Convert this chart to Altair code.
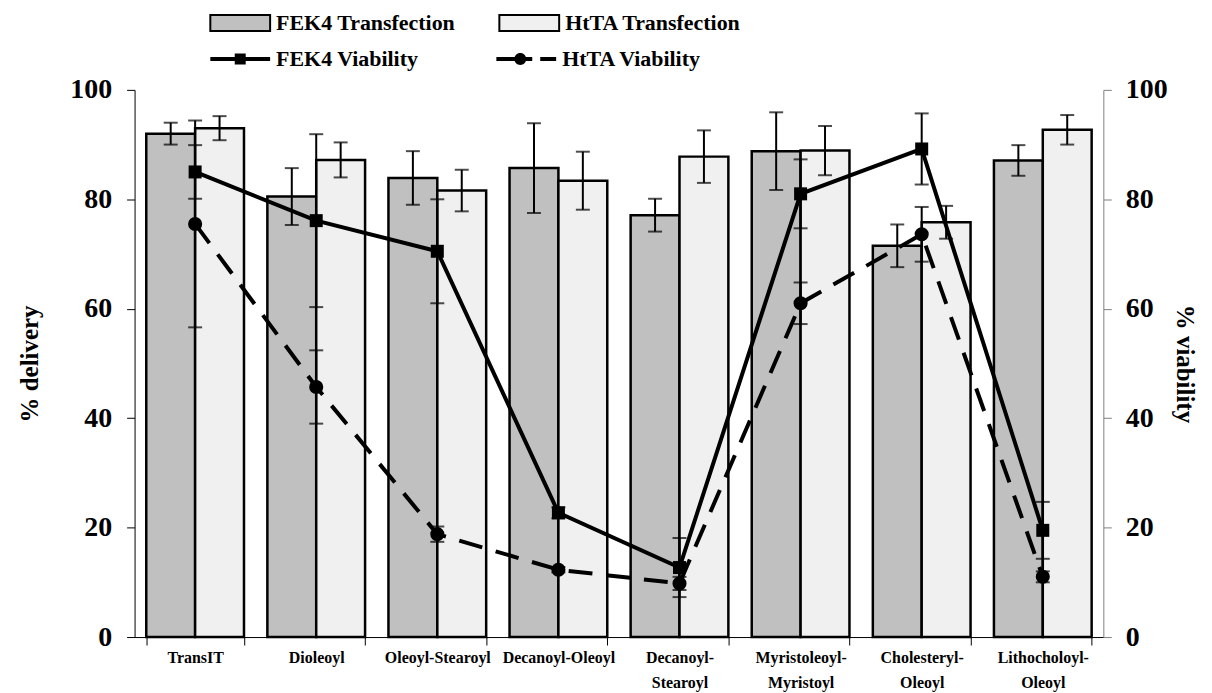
import altair as alt
import pandas as pd

# ---------------- data ----------------
categories = ["TransIT", "Dioleoyl", "Oleoyl-Stearoyl", "Decanoyl-Oleoyl",
              "Decanoyl-\nStearoyl", "Myristoleoyl-\nMyristoyl",
              "Cholesteryl-\nOleoyl", "Lithocholoyl-\nOleoyl"]

fek4_transfection = [92.0, 80.5, 83.9, 85.7, 77.1, 88.8, 71.5, 87.1]
fek4_transfection_err = [2.0, 5.2, 4.9, 8.2, 3.0, 7.1, 3.9, 2.8]
htta_transfection = [93.0, 87.2, 81.6, 83.4, 87.8, 88.9, 75.8, 92.7]
htta_transfection_err = [2.2, 3.2, 3.8, 5.3, 4.8, 4.5, 3.0, 2.7]

fek4_viability = [85.0, 76.1, 70.5, 22.7, 12.7, 81.0, 89.2, 19.5]
fek4_viability_err = [4.9, 15.8, 9.5, 1.0, 5.4, 6.3, 6.5, 5.2]
htta_viability = [75.5, 45.7, 18.8, 12.3, 9.8, 61.0, 73.6, 11.0]
htta_viability_err = [18.9, 6.7, 1.4, 0.5, 1.2, 3.8, 5.0, 1.0]

bar_series = ["FEK4 Transfection", "HtTA Transfection"]
via_series = ["FEK4 Viability", "HtTA Viability"]


def long_df(key, series_names, values, errs):
    rows = []
    for name, vals, es in zip(series_names, values, errs):
        for c, v, e in zip(categories, vals, es):
            rows.append({"category": c, key: name, "value": v,
                         "lo": v - e, "hi": v + e})
    return pd.DataFrame(rows)


bar_df = long_df("transfection", bar_series,
                 [fek4_transfection, htta_transfection],
                 [fek4_transfection_err, htta_transfection_err])
via_df = long_df("viability", via_series,
                 [fek4_viability, htta_viability],
                 [fek4_viability_err, htta_viability_err])

# ---------------- style ----------------
FONT = "Liberation Serif"

x_axis = alt.Axis(title=None, labelAngle=0, tickBand="extent", tickSize=8,
                  domainColor="black", tickColor="black", domainWidth=1,
                  labelFont=FONT, labelFontSize=16, labelFontWeight="bold",
                  labelColor="black", labelLineHeight=25, labelPadding=5,
                  labelExpr="split(datum.label, '\\n')", labelLimit=300)
x_enc = alt.X("category:N", sort=categories,
              scale=alt.Scale(paddingInner=0.193, paddingOuter=0.0965),
              axis=x_axis)

left_axis = alt.Axis(orient="left", values=[0, 20, 40, 60, 80, 100],
                     title="% delivery", grid=False, domainColor="black",
                     tickColor="black", tickSize=8, labelFont=FONT,
                     labelFontSize=28, labelFontWeight="bold", labelColor="black",
                     labelPadding=15, titleFont=FONT, titleFontSize=25,
                     titleFontWeight="bold", titleColor="black", titlePadding=27)
right_axis = alt.Axis(orient="right", values=[0, 20, 40, 60, 80, 100],
                      title="% viability", grid=False, domainColor="#808080",
                      tickColor="#808080", tickSize=8, labelFont=FONT,
                      labelFontSize=28, labelFontWeight="bold", labelColor="black",
                      labelPadding=14, titleFont=FONT, titleFontSize=25,
                      titleFontWeight="bold", titleColor="black", titlePadding=4)
yscale = alt.Scale(domain=[0, 100], nice=False)

xoff = alt.XOffset("transfection:N", sort=bar_series,
                   scale=alt.Scale(paddingInner=0, paddingOuter=0))

# legend symbol outlines (unit box, scaled by the legend symbol size)
rect_path = "M-1,-0.8H5V0.8H-1Z"
fek4_line_path = "M-1,-0.2H5V0.2H-1ZM1.45,-0.55H2.55V0.55H1.45Z"
htta_line_path = ("M-1,-0.2H2.6V0.2H-1ZM3.4,-0.2H5V0.2H3.4Z"
                  "M0.8,0A0.6,0.6 0 1,1 2.0,0A0.6,0.6 0 1,1 0.8,0Z")

legend_common = dict(orient="none", direction="horizontal", columns=2,
                     title=None, symbolSize=400, labelFont=FONT,
                     labelFontSize=22, labelFontWeight="bold",
                     labelColor="black", labelOffset=45, labelLimit=500,
                     padding=0)

# ---------------- left (transfection) ----------------
base_bar = alt.Chart(bar_df)
bars = base_bar.mark_bar(stroke="black", strokeWidth=2.5).encode(
    x=x_enc, xOffset=xoff,
    y=alt.Y("value:Q", scale=yscale, axis=left_axis),
    fill=alt.Fill("transfection:N",
                  scale=alt.Scale(domain=bar_series, range=["#c0c0c0", "#f0f0f0"]),
                  legend=alt.Legend(legendX=75, legendY=-78,
                                    symbolType=rect_path,
                                    symbolStrokeColor="black", symbolStrokeWidth=2,
                                    columnPadding=40, **legend_common)),
)
bar_rule = base_bar.mark_rule(color="black", strokeWidth=2).encode(
    x=x_enc, xOffset=xoff,
    y=alt.Y("lo:Q", scale=yscale, axis=left_axis), y2="hi:Q")
bar_cap_hi = base_bar.mark_tick(color="black", size=14, thickness=2,
                                orient="horizontal").encode(
    x=x_enc, xOffset=xoff, y=alt.Y("hi:Q", scale=yscale, axis=left_axis))
bar_cap_lo = base_bar.mark_tick(color="black", size=14, thickness=2,
                                orient="horizontal").encode(
    x=x_enc, xOffset=xoff, y=alt.Y("lo:Q", scale=yscale, axis=left_axis))

left = alt.layer(bars, bar_rule, bar_cap_hi, bar_cap_lo)

# ---------------- right (viability) ----------------
base_via = alt.Chart(via_df)
fek4_via = base_via.transform_filter(alt.datum.viability == "FEK4 Viability")
htta_via = base_via.transform_filter(alt.datum.viability == "HtTA Viability")

via_rule = base_via.mark_rule(color="black", strokeWidth=2).encode(
    x=x_enc, y=alt.Y("lo:Q", scale=yscale, axis=right_axis), y2="hi:Q")
via_cap_hi = base_via.mark_tick(color="black", size=14, thickness=2,
                                orient="horizontal").encode(
    x=x_enc, y=alt.Y("hi:Q", scale=yscale, axis=right_axis))
via_cap_lo = base_via.mark_tick(color="black", size=14, thickness=2,
                                orient="horizontal").encode(
    x=x_enc, y=alt.Y("lo:Q", scale=yscale, axis=right_axis))
fek4_line = fek4_via.mark_line(color="black", strokeWidth=4).encode(
    x=x_enc, y=alt.Y("value:Q", scale=yscale, axis=right_axis))
htta_line = htta_via.mark_line(color="black", strokeWidth=4,
                               strokeDash=[24, 14]).encode(
    x=x_enc, y=alt.Y("value:Q", scale=yscale, axis=right_axis))
via_sq = fek4_via.mark_square(size=170, color="black", opacity=1).encode(
    x=x_enc, y=alt.Y("value:Q", scale=yscale, axis=right_axis))
via_ci = htta_via.mark_circle(size=200, color="black", opacity=1).encode(
    x=x_enc, y=alt.Y("value:Q", scale=yscale, axis=right_axis))
# legend carrier: draws no marks, only its legend is seen
via_legend = base_via.transform_filter("false").mark_point(
    filled=True, fill="black", opacity=1, strokeWidth=0, size=400).encode(
    x=x_enc, y=alt.Y("value:Q", scale=yscale, axis=right_axis),
    shape=alt.Shape("viability:N",
                    scale=alt.Scale(domain=via_series,
                                    range=[fek4_line_path, htta_line_path]),
                    legend=alt.Legend(legendX=75, legendY=-42,
                                      symbolFillColor="black",
                                      symbolOpacity=1, symbolStrokeWidth=0,
                                      columnPadding=77, **legend_common)),
)

right = alt.layer(via_rule, via_cap_hi, via_cap_lo, fek4_line, htta_line,
                  via_sq, via_ci, via_legend)

chart = alt.layer(left, right).resolve_scale(
    y="independent"
).properties(
    width=972, height=549,
    padding={"left": 10, "top": 3, "right": 8, "bottom": 0},
    background="white",
).configure_view(stroke=None).configure_legend(
    labelFont=FONT, labelFontWeight="bold", labelFontSize=22, labelColor="black"
)

chart.save("out.html", embed_options={"renderer": "svg", "actions": False})
